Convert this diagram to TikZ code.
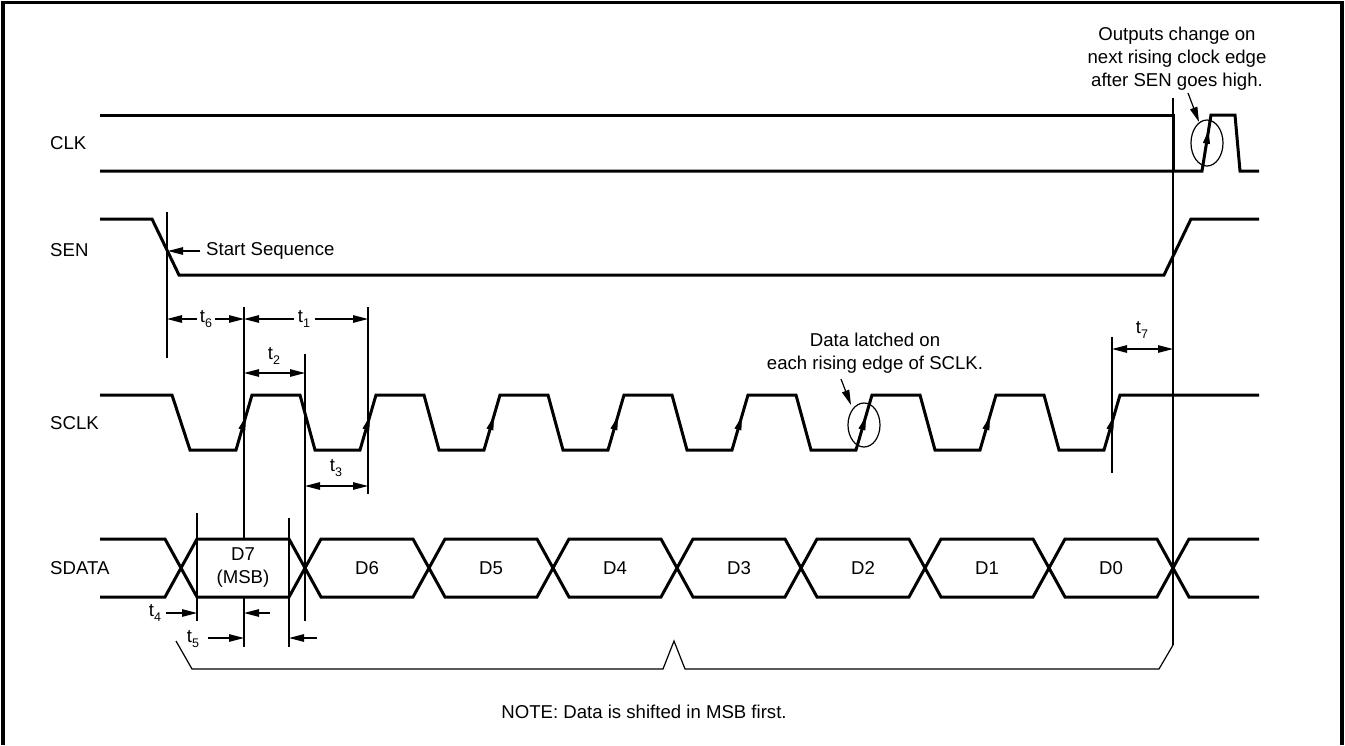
\documentclass[tikz,border=0pt]{standalone}
\usepackage{fontspec}
\setmainfont{Liberation Sans}
\usetikzlibrary{arrows.meta,calc}
\newcommand\tsub[1]{t\raisebox{-0.55ex}{\fontsize{12.5}{12.5}\selectfont #1}}
\begin{document}
\begin{tikzpicture}[x=1pt,y=-1pt,
  every node/.style={font=\fontsize{18.6}{23}\selectfont, inner sep=0pt},
  wave/.style={line width=3pt, line join=miter},
  hair/.style={line width=1.2pt},
  dim/.style={hair, -{Triangle[length=15pt,width=7.5pt]}},
  dimboth/.style={hair, {Triangle[length=15pt,width=7.5pt]}-{Triangle[length=15pt,width=7.5pt]}},
  risetip/.style={line width=1pt, -{Triangle[length=13pt,width=7pt]}},
  sig/.style={anchor=west}]
\useasboundingbox (0,0) rectangle (1345,745);
% frame
\draw[line width=3.5pt] (3,745) -- (3,2.5) -- (1342,2.5) -- (1342,745);

% signal labels
\node[sig] (clklbl) at (50,143) {CLK};
\node[sig] (senlbl) at (50,250) {SEN};
\node[sig] (sclklbl) at (50,423) {SCLK};
\node[sig] (sdatalbl) at (50,568) {SDATA};

% CLK
\draw[wave] (100,115) -- (1173,115) -- (1173,171);
\draw[wave] (100,171) -- (1202,171) -- (1211,115) -- (1235,115) -- (1240,171) -- (1259,171);
\draw[risetip] ($(1202,171)!0.3!(1211,115)$) -- ($(1202,171)!0.72!(1211,115)$);
\draw[hair] (1207,143) ellipse [x radius=16, y radius=23];
\node[align=center] (outlbl) at (1177,59) {Outputs change on\\next rising clock edge\\after SEN goes high.};
\coordinate (outtip) at (1199,122);
\draw[dim] (1188,93) -- (outtip);

% SEN
\draw[wave] (100,219) -- (152,219) -- (179,275) -- (1164,275) -- (1191,219) -- (1259,219);
\node[anchor=west] (startlbl) at (206,251) {Start Sequence};
\coordinate (senmark) at (168,251);
\draw[dim] ([xshift=-6pt]startlbl.west) -- (senmark);

% SCLK
\draw[wave] (100,395) -- (172,395) -- (190,450) -- (236,450) -- (252,395)
  \foreach \k in {1,...,7}{ -- ({300+124*(\k-1)},395) -- ({315+124*(\k-1)},450) -- ({236+124*\k},450) -- ({252+124*\k},395) }
  -- (1259,395);
\foreach \k in {0,...,7}{
  \draw[risetip] ({236+124*\k+16*0.2},{450-55*0.2}) -- ({236+124*\k+16*0.6},{450-55*0.6});
}
\draw[hair] (864,425) ellipse [x radius=16, y radius=22];
\node[align=center] (latchlbl) at (875,353.5) {Data latched on\\each rising edge of SCLK.};
\draw[dim] (841,379) -- (851,405);

% SDATA
\draw[wave] (100,539) -- (165,539) -- (197,597) -- (289,597) -- (321,539) -- (413,539) -- (445,597) -- (537,597) -- (569,539) -- (661,539) -- (693,597) -- (785,597) -- (817,539) -- (909,539) -- (941,597) -- (1033,597) -- (1065,539) -- (1157,539) -- (1189,597) -- (1259,597);
\draw[wave] (100,597) -- (165,597) -- (197,539) -- (289,539) -- (321,597) -- (413,597) -- (445,539) -- (537,539) -- (569,597) -- (661,597) -- (693,539) -- (785,539) -- (817,597) -- (909,597) -- (941,539) -- (1033,539) -- (1065,597) -- (1157,597) -- (1189,539) -- (1259,539);
\node[align=center] (d7) at (243,568) {D7\\(MSB)};
\node (d6) at (367,568) {D6};
\node (d5) at (491,568) {D5};
\node (d4) at (615,568) {D4};
\node (d3) at (739,568) {D3};
\node (d2) at (863,568) {D2};
\node (d1) at (987,568) {D1};
\node (d0) at (1111,568) {D0};

% reference lines
\draw[hair] (167,212) -- (167,358);
\draw[hair] (244,307) -- (244,539);
\draw[hair] (244,597) -- (244,647);
\draw[hair] (305,354) -- (305,621);
\draw[hair] (368,307) -- (368,494);
\draw[hair] (197,513) -- (197,621);
\draw[hair] (289,518) -- (289,647);
\draw[hair] (1112,337) -- (1112,473);
\draw[hair] (1173,98) -- (1173,645);

% timing labels
\node (t6lbl) at (206,319) {\tsub{6}};
\draw[dim] ([xshift=-3pt]t6lbl.west) -- (167,319);
\draw[dim] ([xshift=3pt]t6lbl.east) -- (244,319);
\node (t1lbl) at (304,319) {\tsub{1}};
\draw[dim] ([xshift=-4pt]t1lbl.west) -- (244,319);
\draw[dim] ([xshift=5pt]t1lbl.east) -- (368,319);
\node (t2lbl) at (274,356) {\tsub{2}};
\draw[dimboth] (244,373) -- (305,373);
\node (t3lbl) at (336,468) {\tsub{3}};
\draw[dimboth] (305,486) -- (368,486);
\node (t7lbl) at (1142,330) {\tsub{7}};
\draw[dimboth] (1112,349) -- (1173,349);
\node (t4lbl) at (155,613) {\tsub{4}};
\draw[dim] (166,613) -- (197,613);
\draw[dim] (270,613) -- (244,613);
\node (t5lbl) at (193,639) {\tsub{5}};
\draw[dim] (208,638) -- (244,638);
\draw[dim] (317,638) -- (289,638);

% brace
\draw[hair] (176,641) -- (192,669) -- (663,669) -- (674,641) -- (685,669) -- (1159,669) -- (1173,645);
\node (notelbl) at (644,712) {NOTE: Data is shifted in MSB first.};
\end{tikzpicture}
\end{document}
